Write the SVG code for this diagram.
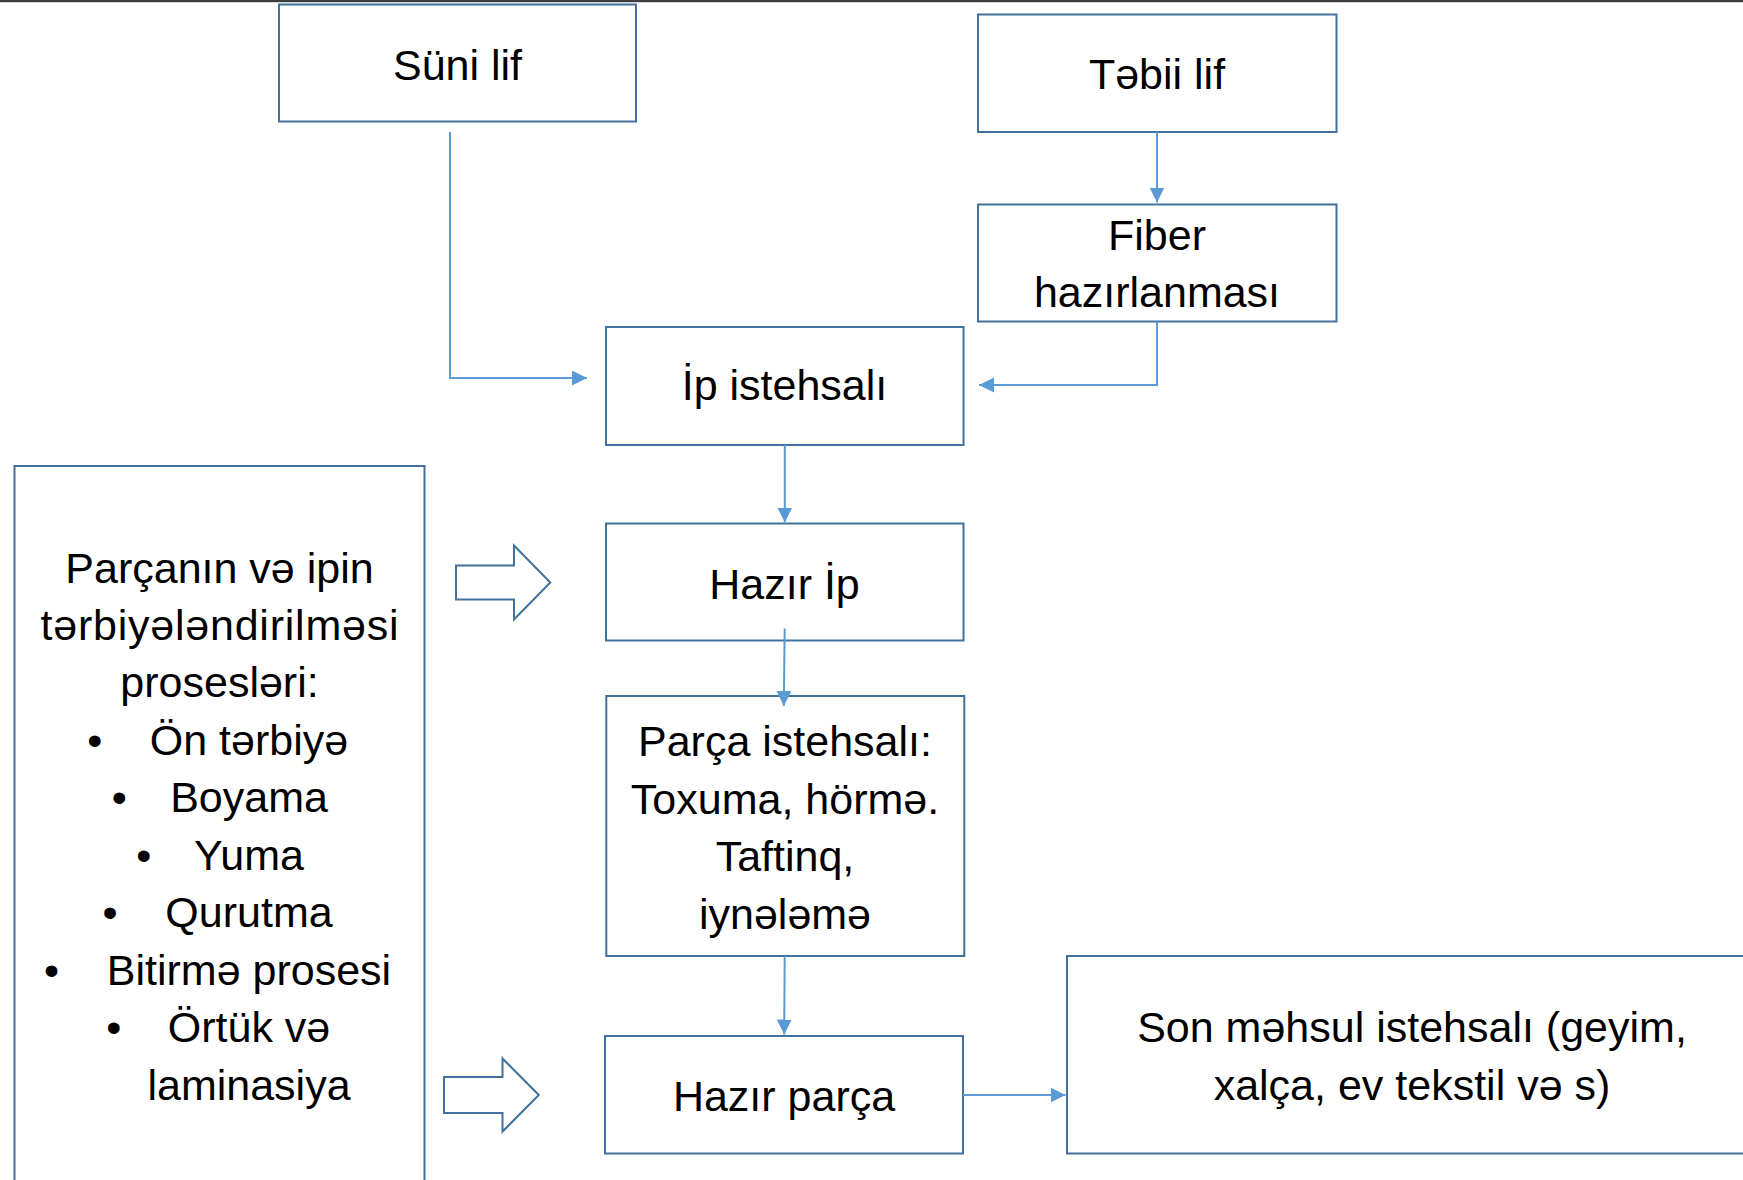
<svg xmlns="http://www.w3.org/2000/svg" width="1743" height="1180" viewBox="0 0 1743 1180">
<defs>
<style>
.box{fill:#fff;stroke:#41719C;stroke-width:2}
.con{fill:none;stroke:#5B9BD5;stroke-width:2}
.blk{fill:#fff;stroke:#41719C;stroke-width:2;stroke-linejoin:miter}
text{font-family:"Liberation Sans",Arial,sans-serif;font-size:43px;fill:#000}
.c{text-anchor:middle}
</style>
<marker id="ah" markerUnits="userSpaceOnUse" markerWidth="16" markerHeight="16" refX="15" refY="7.5" orient="auto">
<path d="M0,0 L15,7.5 L0,15 z" fill="#5B9BD5"/>
</marker>
</defs>
<rect x="0" y="0" width="1743" height="1180" fill="#fff"/>
<rect x="0" y="0" width="1743" height="2.2" fill="#3d3d3d"/>

<g id="suni-lif">
<rect class="box" x="279" y="4.5" width="357" height="117"/>
<text class="c" x="457.5" y="80">Süni lif</text>
</g>

<g id="tebii-lif">
<rect class="box" x="978" y="14.5" width="358.5" height="117.5"/>
<text class="c" x="1157" y="89.3">Təbii lif</text>
</g>

<g id="fiber">
<rect class="box" x="978" y="204.5" width="358.5" height="117"/>
<text class="c" x="1157" y="250">Fiber</text>
<text class="c" x="1157" y="306.7">hazırlanması</text>
</g>

<g id="ip-istehsali">
<rect class="box" x="606" y="327" width="357.5" height="118"/>
<text class="c" x="784.5" y="400">İp istehsalı</text>
</g>

<g id="hazir-ip">
<rect class="box" x="606" y="523.5" width="357.5" height="117"/>
<text class="c" x="784.5" y="599.3">Hazır İp</text>
</g>

<g id="parca-istehsali">
<rect class="box" x="606.3" y="696" width="358" height="260"/>
<text class="c" x="785" y="756">Parça istehsalı:</text>
<text class="c" x="785" y="813.5">Toxuma, hörmə.</text>
<text class="c" x="785" y="871">Taftinq,</text>
<text class="c" x="785" y="928.5">iynələmə</text>
</g>

<g id="hazir-parca">
<rect class="box" x="605" y="1036" width="358" height="117.5"/>
<text class="c" x="784" y="1111.2">Hazır parça</text>
</g>

<g id="son-mehsul">
<rect class="box" x="1067" y="956" width="700" height="197.5"/>
<text class="c" x="1412" y="1042">Son məhsul istehsalı (geyim,</text>
<text class="c" x="1412" y="1099.5">xalça, ev tekstil və s)</text>
</g>

<g id="terbiye-prosesleri">
<rect class="box" x="14.5" y="466" width="410" height="760"/>
<text class="c" x="219.5" y="582.5">Parçanın və ipin</text>
<text class="c" x="219.5" y="640" textLength="358" lengthAdjust="spacing">tərbiyələndirilməsi</text>
<text class="c" x="219.5" y="697.4">prosesləri:</text>
<text class="c" x="94.8" y="754.9">•</text>
<text class="c" x="249" y="754.9">Ön tərbiyə</text>
<text class="c" x="119.2" y="812.3">•</text>
<text class="c" x="249" y="812.3">Boyama</text>
<text class="c" x="143.7" y="869.8">•</text>
<text class="c" x="249" y="869.8">Yuma</text>
<text class="c" x="110" y="927.2">•</text>
<text class="c" x="249" y="927.2">Qurutma</text>
<text class="c" x="51.6" y="984.7">•</text>
<text class="c" x="249" y="984.7">Bitirmə prosesi</text>
<text class="c" x="113.9" y="1042.1">•</text>
<text class="c" x="249" y="1042.1">Örtük və</text>
<text class="c" x="249" y="1099.6">laminasiya</text>
</g>

<g id="block-arrow-1">
<polygon class="blk" points="456,565.5 514,565.5 514,545.5 550.3,582.5 514,619.5 514,599.5 456,599.5"/>
</g>
<g id="block-arrow-2">
<polygon class="blk" points="444,1077 502.5,1077 502.5,1058.5 538.8,1095 502.5,1131.5 502.5,1113 444,1113"/>
</g>

<g id="connectors">
<path class="con" d="M450,132 V378 H587" marker-end="url(#ah)"/>
<path class="con" d="M1157,132 V202.5" marker-end="url(#ah)"/>
<path class="con" d="M1157,321.5 V385 H979" marker-end="url(#ah)"/>
<path class="con" d="M784.8,445 V522.5" marker-end="url(#ah)"/>
<path class="con" d="M784.7,628.6 L783.8,706" marker-end="url(#ah)"/>
<path class="con" d="M784.7,956 L784.2,1034.5" marker-end="url(#ah)"/>
<path class="con" d="M963,1095 H1065.5" marker-end="url(#ah)"/>
</g>
</svg>
